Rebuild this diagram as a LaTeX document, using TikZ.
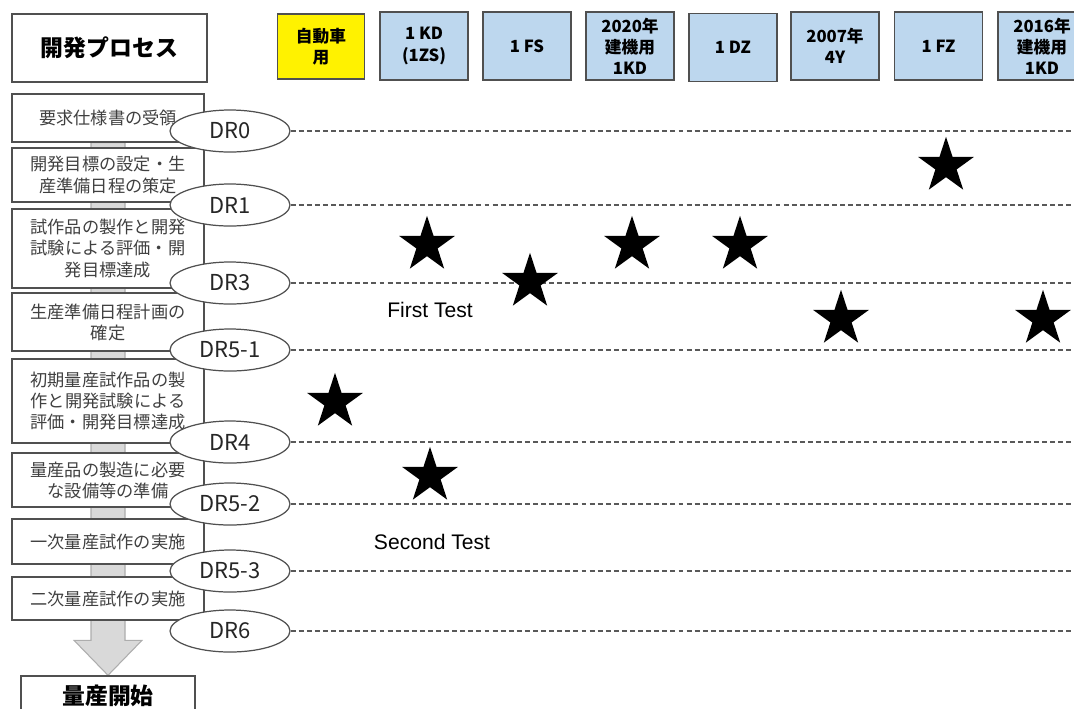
\documentclass[tikz,border=0pt]{standalone}
\usepackage{fontspec}
\setmainfont{Liberation Sans}
\newfontfamily\jp{Noto Sans CJK JP}
\usetikzlibrary{shapes.geometric,calc,backgrounds}

\definecolor{engblue}{HTML}{BDD7EE}
\definecolor{boxedge}{HTML}{505050}
\definecolor{shaftgray}{HTML}{D9D9D9}
\definecolor{shaftedge}{HTML}{ADADAD}
\definecolor{jptext}{HTML}{404040}

\begin{document}
\begin{tikzpicture}[x = 0.02cm, y = -0.02cm,
    procbox/.style = {draw = boxedge, fill = white, line width = 0.8pt, text = jptext, align = center,
        inner sep = 0pt, minimum width = 3.84cm, font = \jp\fontsize{9.8}{12}\selectfont},
    headbox/.style = {draw = boxedge, fill = engblue, line width = 0.8pt, align = center, inner sep = 0pt,
        minimum width = 1.76cm, minimum height = 1.36cm, font = \jp\bfseries\fontsize{9.5}{12}\selectfont},
    drmark/.style = {ellipse, draw = boxedge, fill = white, line width = 0.7pt, minimum width = 2.4cm,
        minimum height = 0.84cm, inner sep = 0pt, text = black!85, font = \jp\fontsize{12.5}{14}\selectfont},
    drline/.style = {draw = black!65, line width = 0.7pt, dash pattern = on 2.8pt off 1.8pt},
    hit/.style = {star, star points = 5, star point ratio = 2.618, fill = black, inner sep = 0pt, minimum size = 1.17cm}]

    \useasboundingbox (0,0) rectangle (1074,708);
    \clip (0,0) rectangle (1074,708);
    \coordinate (rim) at (1074,0);

    \node[draw = boxedge, line width = 0.8pt, minimum width = 3.9cm, minimum height = 1.36cm,
        font = \jp\bfseries\fontsize{13}{15}\selectfont] (title) at (109.5,48) {開発プロセス};

    \node[headbox, fill = yellow, minimum width = 1.74cm, minimum height = 1.3cm] (car) at (321,46.5) {自動車\\用};
    \node[headbox] (kd) at (424,46) {1 KD\\(1ZS)};
    \node[headbox] (fs) at (527,46) {1 FS};
    \node[headbox] (kd20) at (630,46) {2020年\\建機用\\1KD};
    \node[headbox] (dz) at (733,47.5) {1 DZ};
    \node[headbox] (y4) at (835,46) {2007年\\4Y};
    \node[headbox] (fz) at (938.5,46) {1 FZ};
    \node[headbox] (kd16) at (1042,46) {2016年\\建機用\\1KD};

    \node[procbox, minimum height = 0.96cm] (p1) at (108,118) {要求仕様書の受領};
    \node[procbox, minimum height = 1.08cm] (p2) at (108,175) {開発目標の設定・生\\産準備日程の策定};
    \node[procbox, minimum height = 1.58cm] (p3) at (108,248.5) {試作品の製作と開発\\試験による評価・開\\発目標達成};
    \node[procbox, minimum height = 1.16cm] (p4) at (108,322) {生産準備日程計画の\\確定};
    \node[procbox, minimum height = 1.68cm] (p5) at (108,401) {初期量産試作品の製\\作と開発試験による\\評価・開発目標達成};
    \node[procbox, minimum height = 1.08cm] (p6) at (108,480) {量産品の製造に必要\\な設備等の準備};
    \node[procbox, minimum height = 0.9cm] (p7) at (108,541.5) {一次量産試作の実施};
    \node[procbox, minimum height = 0.86cm] (p8) at (108,598.5) {二次量産試作の実施};

    \node[draw = boxedge, fill = white, line width = 0.8pt, minimum width = 3.48cm, minimum height = 0.8cm,
        font = \jp\bfseries\fontsize{13}{15}\selectfont] (start) at (108,696) {量産開始};

    \begin{scope}[on background layer]
        \coordinate (shafttop) at (start.north |- p1.south);
        \coordinate (tip) at (start.north);
        \filldraw[fill = shaftgray, draw = shaftedge, line width = 0.6pt]
        ($(shafttop) + (-17,0)$) -- ($(tip) + (-17,-35)$) -- ($(tip) + (-34,-35)$) -- (tip)
        -- ($(tip) + (34,-35)$) -- ($(tip) + (17,-35)$) -- ($(shafttop) + (17,0)$) -- cycle;
    \end{scope}

    \foreach \name/\lbl/\y in {dr0/DR0/131, dr1/DR1/205, dr3/DR3/283, dr51/DR5-1/350,
        dr4/DR4/442, dr52/DR5-2/504, dr53/DR5-3/571, dr6/DR6/631}{
        \node[drmark] (\name) at (230,\y) {\lbl};
        \draw[drline] (\name.east) -- (\name -| rim);
    }

    \foreach \n/\x/\y in {s1/427/245, s2/530/282, s3/632/245, s4/740/245, s5/946/166,
        s6/841/319, s7/1043/319, s8/335/402, s9/430/476}
        \node[hit] (\n) at (\x,\y) {};

    \node[font = \fontsize{12}{14}\selectfont] (firsttest) at (430,310) {First Test};
    \node[font = \fontsize{12}{14}\selectfont] (secondtest) at (432,542) {Second Test};
\end{tikzpicture}
\end{document}
